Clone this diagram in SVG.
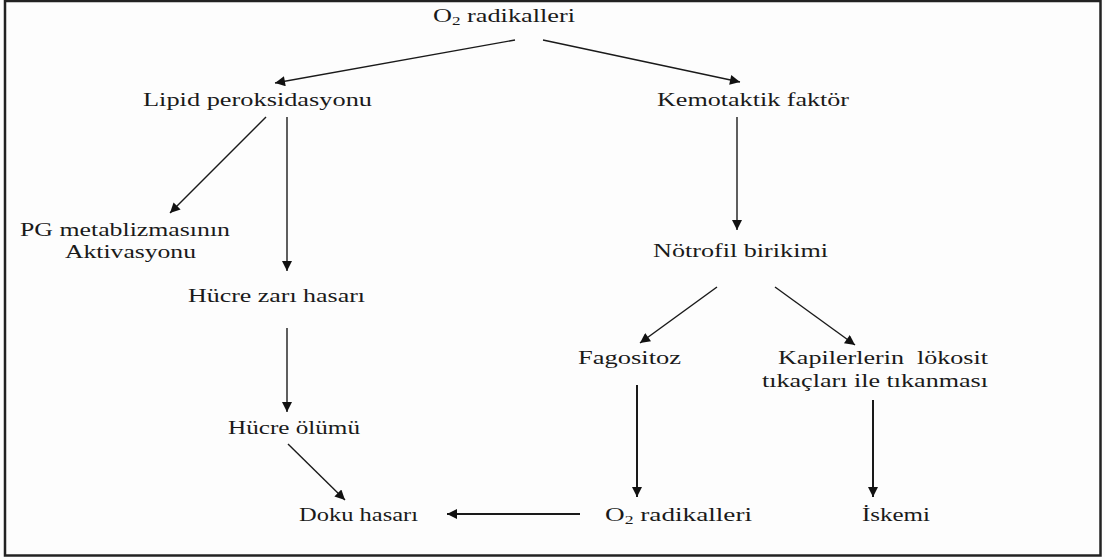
<svg xmlns="http://www.w3.org/2000/svg" width="1105" height="560" viewBox="0 0 1105 560">
<style>
text{font-family:"Liberation Serif","Times New Roman",serif;font-size:18.5px;fill:#1a1a1a}
.c line{stroke:#1a1a1a;stroke-width:1.4;marker-end:url(#ah)}
.c line.t{stroke-width:2}
</style>
<defs>
<marker id="ah" viewBox="0 0 10 10" refX="10" refY="5" markerUnits="userSpaceOnUse" markerWidth="12" markerHeight="10" orient="auto">
<path d="M0,0 L10,5 L0,10 z" fill="#111"/>
</marker>
</defs>
<rect x="0" y="0" width="1105" height="560" fill="#fdfdfd"/>
<rect x="5" y="1" width="1095.5" height="554.5" fill="none" stroke="#222" stroke-width="2.5"/>
<g id="n-o2top"><text x="433" y="22" textLength="142" lengthAdjust="spacingAndGlyphs">O<tspan font-size="12" dy="3">2</tspan><tspan dy="-3"> radikalleri</tspan></text></g>
<g id="n-lipid"><text x="143" y="106" textLength="229" lengthAdjust="spacingAndGlyphs">Lipid peroksidasyonu</text></g>
<g id="n-kemo"><text x="657" y="106" textLength="192" lengthAdjust="spacingAndGlyphs">Kemotaktik faktör</text></g>
<g id="n-pg"><text x="20" y="236" textLength="210" lengthAdjust="spacingAndGlyphs">PG metablizmasının</text><text x="65" y="258" textLength="131" lengthAdjust="spacingAndGlyphs">Aktivasyonu</text></g>
<g id="n-notrofil"><text x="653" y="257" textLength="175" lengthAdjust="spacingAndGlyphs">Nötrofil birikimi</text></g>
<g id="n-zar"><text x="188" y="302" textLength="177" lengthAdjust="spacingAndGlyphs">Hücre zarı hasarı</text></g>
<g id="n-fago"><text x="578" y="364" textLength="103" lengthAdjust="spacingAndGlyphs">Fagositoz</text></g>
<g id="n-kapiler"><text x="778" y="364" textLength="210" lengthAdjust="spacingAndGlyphs" xml:space="preserve">Kapilerlerin  lökosit</text><text x="762" y="387" textLength="226" lengthAdjust="spacingAndGlyphs">tıkaçları ile tıkanması</text></g>
<g id="n-olum"><text x="228" y="434" textLength="132" lengthAdjust="spacingAndGlyphs">Hücre ölümü</text></g>
<g id="n-doku"><text x="299" y="521" textLength="119" lengthAdjust="spacingAndGlyphs">Doku hasarı</text></g>
<g id="n-o2bot"><text x="605" y="521" textLength="147" lengthAdjust="spacingAndGlyphs">O<tspan font-size="12" dy="3">2</tspan><tspan dy="-3"> radikalleri</tspan></text></g>
<g id="n-iskemi"><text x="862" y="521" textLength="68" lengthAdjust="spacingAndGlyphs">İskemi</text></g>
<g id="connectors" class="c">
<line x1="515" y1="40" x2="275" y2="83"/>
<line x1="543" y1="40" x2="740" y2="82"/>
<line x1="266" y1="117" x2="170" y2="213"/>
<line x1="287" y1="117" x2="287" y2="271"/>
<line x1="737" y1="117" x2="737" y2="230"/>
<line x1="287" y1="328" x2="287" y2="412"/>
<line x1="288" y1="444" x2="345" y2="500"/>
<line x1="717" y1="287" x2="640" y2="343"/>
<line x1="775" y1="287" x2="855" y2="345"/>
<line class="t" x1="637" y1="385" x2="637" y2="497"/>
<line class="t" x1="873" y1="400" x2="873" y2="497"/>
<line class="t" x1="580" y1="514" x2="447" y2="514"/>
</g>
</svg>
